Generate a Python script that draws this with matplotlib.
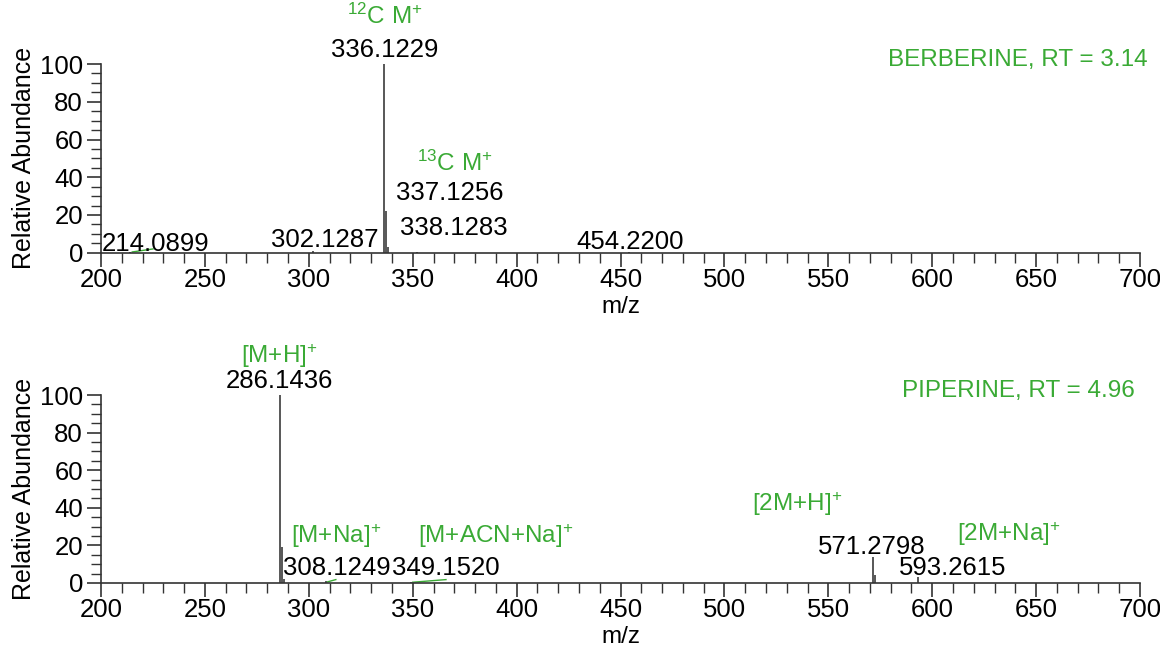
import matplotlib

matplotlib.use("Agg")
import matplotlib.pyplot as plt
from matplotlib.ticker import MultipleLocator

plt.rcParams["font.family"] = ["Liberation Sans", "DejaVu Sans"]
plt.rcParams["mathtext.fontset"] = "custom"
plt.rcParams["mathtext.rm"] = "Liberation Sans"

# berberine spectrum (m/z, relative abundance)
berberineMz = [214.0899, 302.1287, 336.1229, 337.1256, 338.1283, 352.1, 454.2200]
berberineAbundance = [0.3, 0.8, 100.0, 22.0, 3.0, 0.6, 0.3]
berberineLabels = ["214.0899", "302.1287", "336.1229", "337.1256", "338.1283", "454.2200"]
berberineLabelPos = [(226, 4.8), (307.5, 6.9), (336.6, 107.5), (368, 31.8), (370, 13.3), (454.5, 5.8)]
berberineIons = ["$\\mathregular{^{12}}$C M$\\mathregular{^{+}}$", "$\\mathregular{^{13}}$C M$\\mathregular{^{+}}$"]
berberineIonPos = [(336.6, 125.5), (370, 47.5)]
berberineLeaders = [((215, 225), (0.4, 2.0))]

# piperine spectrum
piperineMz = [286.1436, 287.1469, 288.15, 308.1249, 349.1520, 571.2798, 572.28, 593.2615]
piperineAbundance = [100.0, 19.0, 2.0, 1.0, 0.5, 14.0, 4.0, 3.2]
piperineLabels = ["286.1436", "308.1249", "349.1520", "571.2798", "593.2615"]
piperineLabelPos = [(286, 107.5), (313.5, 8.0), (366, 8.0), (571, 19.0), (610, 8.0)]
piperineIons = ["[M+H]$\\mathregular{^{+}}$", "[M+Na]$\\mathregular{^{+}}$", "[M+ACN+Na]$\\mathregular{^{+}}$",
                "[2M+H]$\\mathregular{^{+}}$", "[2M+Na]$\\mathregular{^{+}}$"]
piperineIonPos = [(286, 120.5), (313, 25.0), (390, 25.0), (535, 42.0), (637, 26.0)]
piperineLeaders = [((309, 313), (0.6, 1.8)), ((350, 366), (0.4, 1.8))]

greenColor = "#3aaa35"
peakColor = "#4a4a4a"


def drawSpectrum(ax, mzValues, abundance, labels, labelPos, ions, ionPos, leaders, title, titleX):
    ax.vlines(mzValues, 0, abundance, color=peakColor, linewidth=1.3)
    for text, (xPos, yPos) in zip(labels, labelPos):
        ax.text(xPos, yPos, text, ha="center", va="center", fontsize=18.5, color="black", clip_on=False)
    for text, (xPos, yPos) in zip(ions, ionPos):
        ax.text(xPos, yPos, text, ha="center", va="center", fontsize=17.5, color=greenColor, clip_on=False)
    for xs, ys in leaders:
        ax.plot(xs, ys, color=greenColor, linewidth=1.0, clip_on=False)
    ax.text(titleX, 102, title, ha="right", va="center", fontsize=17.5, color=greenColor, clip_on=False)

    ax.set_xlim(200, 700)
    ax.set_ylim(0, 100)
    ax.spines["top"].set_visible(False)
    ax.spines["right"].set_visible(False)
    for side in ("left", "bottom"):
        ax.spines[side].set_linewidth(1.2)
        ax.spines[side].set_color("#333333")
    ax.xaxis.set_major_locator(MultipleLocator(50))
    ax.xaxis.set_minor_locator(MultipleLocator(10))
    ax.yaxis.set_major_locator(MultipleLocator(20))
    ax.yaxis.set_minor_locator(MultipleLocator(5))
    ax.tick_params(which="major", length=10, width=1.2, color="#333333", labelsize=18.5, pad=3)
    ax.tick_params(axis="x", which="major", pad=1)
    ax.tick_params(which="minor", length=7, width=1.0, color="#333333")
    ax.set_xlabel("m/z", fontsize=17.5, labelpad=3)
    ax.set_ylabel("Relative Abundance", fontsize=18, labelpad=3)


def main() -> None:
    fig = plt.figure(figsize=(11.6, 6.5), dpi=100)
    axTop = fig.add_axes([0.0871, 0.6112, 0.8957, 0.2903])
    axBottom = fig.add_axes([0.0871, 0.1031, 0.8957, 0.2892])

    drawSpectrum(axTop, berberineMz, berberineAbundance, berberineLabels, berberineLabelPos,
                 berberineIons, berberineIonPos, berberineLeaders, "BERBERINE, RT = 3.14", 703.5)
    drawSpectrum(axBottom, piperineMz, piperineAbundance, piperineLabels, piperineLabelPos,
                 piperineIons, piperineIonPos, piperineLeaders, "PIPERINE, RT = 4.96", 697.5)

    fig.savefig("out.png", dpi=100)


if __name__ == "__main__":
    main()
